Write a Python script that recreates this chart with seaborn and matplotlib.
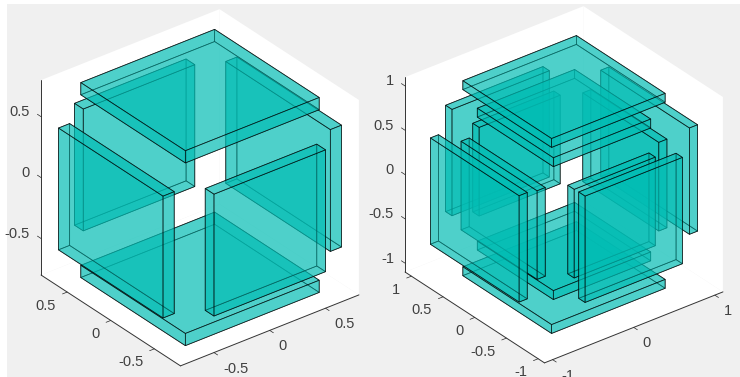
import numpy as np
import matplotlib
matplotlib.use("Agg")
import matplotlib.pyplot as plt
from matplotlib.colors import to_rgba
from matplotlib.patches import Rectangle
from matplotlib.transforms import offset_copy
from mpl_toolkits.mplot3d import proj3d
from mpl_toolkits.mplot3d.art3d import Poly3DCollection
import seaborn as sns

# plates as (x range, y range, z range)
inner_plates = [
    ((-0.6, 0.6), (-0.6, 0.6), (0.7, 0.8)),
    ((-0.6, 0.6), (-0.6, 0.6), (-0.8, -0.7)),
    ((0.7, 0.8), (-0.6, 0.6), (-0.5, 0.5)),
    ((-0.8, -0.7), (-0.6, 0.6), (-0.5, 0.5)),
    ((-0.5, 0.5), (0.7, 0.8), (-0.5, 0.5)),
    ((-0.5, 0.5), (-0.8, -0.7), (-0.5, 0.5)),
]
outer_plates = [
    ((-0.7, 0.7), (-0.7, 0.7), (1.0, 1.1)),
    ((-0.7, 0.7), (-0.7, 0.7), (-1.1, -1.0)),
    ((1.0, 1.1), (-0.7, 0.7), (-0.6, 0.6)),
    ((-1.1, -1.0), (-0.7, 0.7), (-0.6, 0.6)),
    ((-0.6, 0.6), (1.0, 1.1), (-0.6, 0.6)),
    ((-0.6, 0.6), (-1.1, -1.0), (-0.6, 0.6)),
]
left_lim = 0.8
right_lim = 1.1
left_ticks = [-0.5, 0, 0.5]
left_labels = ["-0.5", "0", "0.5"]
right_xticks = [-1, 0, 1]
right_xlabels = ["-1", "0", "1"]
right_ticks = [-1, -0.5, 0, 0.5, 1]
right_labels = ["-1", "-0.5", "0", "0.5", "1"]

TEAL = "#02bdb4"
TEXT = "#404040"
AXIS = "#333333"


def box_faces(xr, yr, zr):
    x0, x1 = xr
    y0, y1 = yr
    z0, z1 = zr
    return [
        [(x0, y0, z0), (x1, y0, z0), (x1, y1, z0), (x0, y1, z0)],
        [(x0, y0, z1), (x1, y0, z1), (x1, y1, z1), (x0, y1, z1)],
        [(x0, y0, z0), (x1, y0, z0), (x1, y0, z1), (x0, y0, z1)],
        [(x0, y1, z0), (x1, y1, z0), (x1, y1, z1), (x0, y1, z1)],
        [(x0, y0, z0), (x0, y1, z0), (x0, y1, z1), (x0, y0, z1)],
        [(x1, y0, z0), (x1, y1, z0), (x1, y1, z1), (x1, y0, z1)],
    ]


def tick_label(ax, x, y, z, s, dx, dy, ha):
    # project the tick position, then shift the label by some pixels
    x2, y2, _ = proj3d.proj_transform(x, y, z, ax.get_proj())
    trans = offset_copy(ax.transData, fig=ax.figure, x=dx, y=dy, units="dots")
    ax.text2D(x2, y2, s, transform=trans, ha=ha, va="center", fontsize=10.5, color=TEXT)


def setup_axes(ax, lim, xticks, xlabels, ticks, labels):
    ax.set_proj_type("ortho")
    ax.view_init(elev=30.6, azim=-128)
    ax.set_box_aspect((1, 1, 1), zoom=1.01)
    ax.set_xlim(-lim, lim, view_margin=0)
    ax.set_ylim(-lim, lim, view_margin=0)
    ax.set_zlim(-lim, lim, view_margin=0)
    ax.patch.set_alpha(0)
    ax.grid(False)
    ax.set_xticks(xticks)
    ax.set_yticks(ticks)
    ax.set_zticks(ticks)
    for axis in (ax.xaxis, ax.yaxis, ax.zaxis):
        axis.set_pane_color("white")
        axis.pane.set_edgecolor("none")
        axis.line.set_color(AXIS)
        axis.line.set_linewidth(0.7)
        axis.label.set_visible(False)
        axis.set_tick_params(label1On=False)
        axis._axinfo["tick"]["inward_factor"] = 0.33
        axis._axinfo["tick"]["outward_factor"] = 0.0
        axis._axinfo["tick"]["linewidth"] = {True: 0.5, False: 0.5}
        axis._axinfo["tick"]["color"] = AXIS
    # z ticks point out of the box along y
    ax.zaxis._get_tickdir = lambda position: 1
    ax.zaxis._axinfo["tick"]["inward_factor"] = 0.0
    ax.zaxis._axinfo["tick"]["outward_factor"] = 0.33
    for t, s in zip(xticks, xlabels):
        tick_label(ax, t, -lim, -lim, s, 9, -16, "left")
    for t, s in zip(ticks, labels):
        tick_label(ax, -lim, t, -lim, s, -11, -13.5, "right")
    for t, s in zip(ticks, labels):
        tick_label(ax, -lim, lim, t, s, -11, 4.5, "right")


def draw_plates(ax, plates):
    faces = []
    for xr, yr, zr in plates:
        faces += box_faces(xr, yr, zr)
    coll = Poly3DCollection(faces, facecolors=to_rgba(TEAL, 0.45),
                            edgecolors=to_rgba("black", 0.7), linewidths=0.55)
    ax.add_collection3d(coll)


sns.set_theme(style="white")
plt.rcParams["font.family"] = ["Liberation Sans", "DejaVu Sans"]
plt.rcParams["axes.unicode_minus"] = False

fig = plt.figure(figsize=(7.4, 3.77), dpi=100, facecolor="white")
fig.patches.append(Rectangle((7 / 740, 0), 733 / 740, 373 / 377, transform=fig.transFigure,
                             facecolor="#f0f0f0", edgecolor="none", zorder=-1))

ax1 = fig.add_axes([6.4 / 740, -4.1 / 377, 377 / 740, 1], projection="3d")
setup_axes(ax1, left_lim, left_ticks, left_labels, left_ticks, left_labels)
draw_plates(ax1, inner_plates)

ax2 = fig.add_axes([370.4 / 740, -1.1 / 377, 377 / 740, 1], projection="3d")
setup_axes(ax2, right_lim, right_xticks, right_xlabels, right_ticks, right_labels)
draw_plates(ax2, inner_plates + outer_plates)

fig.savefig("out.png", dpi=100)
plt.close(fig)
